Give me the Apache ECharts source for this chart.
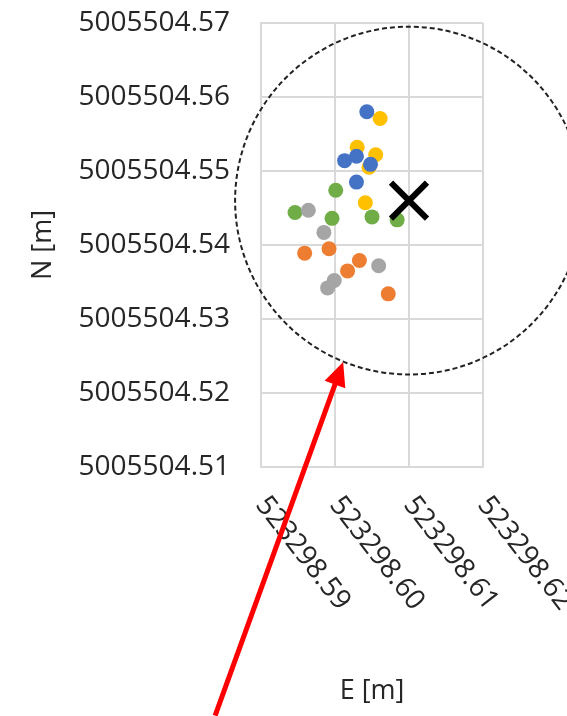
<!DOCTYPE html>
<html>
<head>
<meta charset="utf-8">
<script src="https://cdn.jsdelivr.net/npm/echarts@6/dist/echarts.min.js"></script>
<style>
html,body{margin:0;padding:0;background:#fff;}
#chart{width:567px;height:716px;}
</style>
</head>
<body>
<div id="chart"></div>
<script>
// Tick labels
var eTicks = [523298.59, 523298.60, 523298.61, 523298.62];
var nTicks = [5005504.51, 5005504.52, 5005504.53, 5005504.54, 5005504.55, 5005504.56, 5005504.57];

// Measurement series (E, N)
var greenE  = [523298.6001, 523298.5946, 523298.5996, 523298.6050, 523298.6084];
var greenN  = [5005504.5474, 5005504.5444, 5005504.5436, 5005504.5438, 5005504.5434];
var orangeE = [523298.5959, 523298.5992, 523298.6033, 523298.6017, 523298.6072];
var orangeN = [5005504.5389, 5005504.5395, 5005504.5379, 5005504.5365, 5005504.5334];
var yellowE = [523298.6061, 523298.6030, 523298.6055, 523298.6046, 523298.6041];
var yellowN = [5005504.5571, 5005504.5532, 5005504.5522, 5005504.5505, 5005504.5457];
var grayE   = [523298.5964, 523298.5985, 523298.6059, 523298.5999, 523298.5990];
var grayN   = [5005504.5447, 5005504.5417, 5005504.5372, 5005504.5352, 5005504.5342];
var blueE   = [523298.6043, 523298.6013, 523298.6029, 523298.6048, 523298.6029];
var blueN   = [5005504.5580, 5005504.5514, 5005504.5520, 5005504.5509, 5005504.5485];

// Reference point (X) and tolerance circle radius
var refE = [523298.6100];
var refN = [5005504.5460];
var circleRadius = [0.0235];

// Arrow annotation (tail, tip) in data coordinates
var arrowE = [523298.5838, 523298.6011];
var arrowN = [5005504.4764, 5005504.5242];

function zip(a, b) { return a.map(function (v, i) { return [v, b[i]]; }); }

var FONT = 'Open Sans';
var chart = echarts.init(document.getElementById('chart'), null, {renderer: 'canvas'});

function scatter(name, E, N, color) {
  return {
    name: name, type: 'scatter', data: zip(E, N), symbolSize: 15,
    itemStyle: {color: color, opacity: 1}, emphasis: {disabled: true}, z: 3
  };
}

var option = {
  backgroundColor: '#ffffff',
  animation: false,
  grid: {left: 261, right: 84, top: 23, bottom: 249, containLabel: false, outerBoundsMode: 'none'},
  xAxis: {
    type: 'value', min: eTicks[0], max: eTicks[eTicks.length - 1], interval: 0.01,
    name: 'E [m]', nameLocation: 'middle', nameGap: 211,
    nameTextStyle: {fontFamily: FONT, fontSize: 27, color: '#262626'},
    axisLine: {show: true, lineStyle: {color: '#d9d9d9', width: 2}},
    axisTick: {show: false},
    splitLine: {show: true, lineStyle: {color: '#d9d9d9', width: 2}},
    axisLabel: {
      rotate: -52, margin: 33, fontFamily: FONT, fontSize: 28, color: '#262626',
      formatter: function (v) { return v.toFixed(2); }
    }
  },
  yAxis: {
    type: 'value', min: nTicks[0], max: nTicks[nTicks.length - 1], interval: 0.01,
    name: 'N [m]', nameLocation: 'middle', nameGap: 204,
    nameTextStyle: {fontFamily: FONT, fontSize: 27, color: '#262626'},
    axisLine: {show: true, lineStyle: {color: '#d9d9d9', width: 2}},
    axisTick: {show: false},
    splitLine: {show: true, lineStyle: {color: '#d9d9d9', width: 2}},
    axisLabel: {
      margin: 31, fontFamily: FONT, fontSize: 28, color: '#262626',
      formatter: function (v) { return v.toFixed(2); }
    }
  },
  series: [
    scatter('Series 5', greenE, greenN, '#70AD47'),
    scatter('Series 2', orangeE, orangeN, '#ED7D31'),
    scatter('Series 4', yellowE, yellowN, '#FFC000'),
    scatter('Series 3', grayE, grayN, '#A5A5A5'),
    scatter('Series 1', blueE, blueN, '#4472C4'),
    {
      name: 'Reference', type: 'custom', clip: false, z: 5,
      data: [[refE[0], refN[0], circleRadius[0]]],
      renderItem: function (params, api) {
        var c = api.coord([api.value(0), api.value(1)]);
        var r = api.size([api.value(2), 0])[0];
        var h = 18;
        return {
          type: 'group',
          children: [
            {type: 'circle', shape: {cx: c[0], cy: c[1], r: r},
             style: {fill: 'none', stroke: '#222', lineWidth: 2, lineDash: [5, 3]}},
            {type: 'line', shape: {x1: c[0] - h, y1: c[1] - h, x2: c[0] + h, y2: c[1] + h},
             style: {stroke: '#000', lineWidth: 6}},
            {type: 'line', shape: {x1: c[0] - h, y1: c[1] + h, x2: c[0] + h, y2: c[1] - h},
             style: {stroke: '#000', lineWidth: 6}}
          ]
        };
      }
    }
  ]
};
chart.setOption(option);

// Arrow annotation
var tail = chart.convertToPixel({gridIndex: 0}, [arrowE[0], arrowN[0]]);
var tip = chart.convertToPixel({gridIndex: 0}, [arrowE[1], arrowN[1]]);
var dx = tip[0] - tail[0], dy = tip[1] - tail[1];
var len = Math.sqrt(dx * dx + dy * dy);
var ux = dx / len, uy = dy / len, px = -uy, py = ux;
var headLen = 24, headHalf = 11;
var bx = tip[0] - ux * headLen, by = tip[1] - uy * headLen;
chart.setOption({
  graphic: [
    {type: 'line', z: 10, shape: {x1: tail[0], y1: tail[1], x2: bx + ux * 2, y2: by + uy * 2},
     style: {stroke: '#ff0000', lineWidth: 5}},
    {type: 'polygon', z: 10,
     shape: {points: [[tip[0], tip[1]], [bx + px * headHalf, by + py * headHalf], [bx - px * headHalf, by - py * headHalf]]},
     style: {fill: '#ff0000'}}
  ]
});
</script>
</body>
</html>
